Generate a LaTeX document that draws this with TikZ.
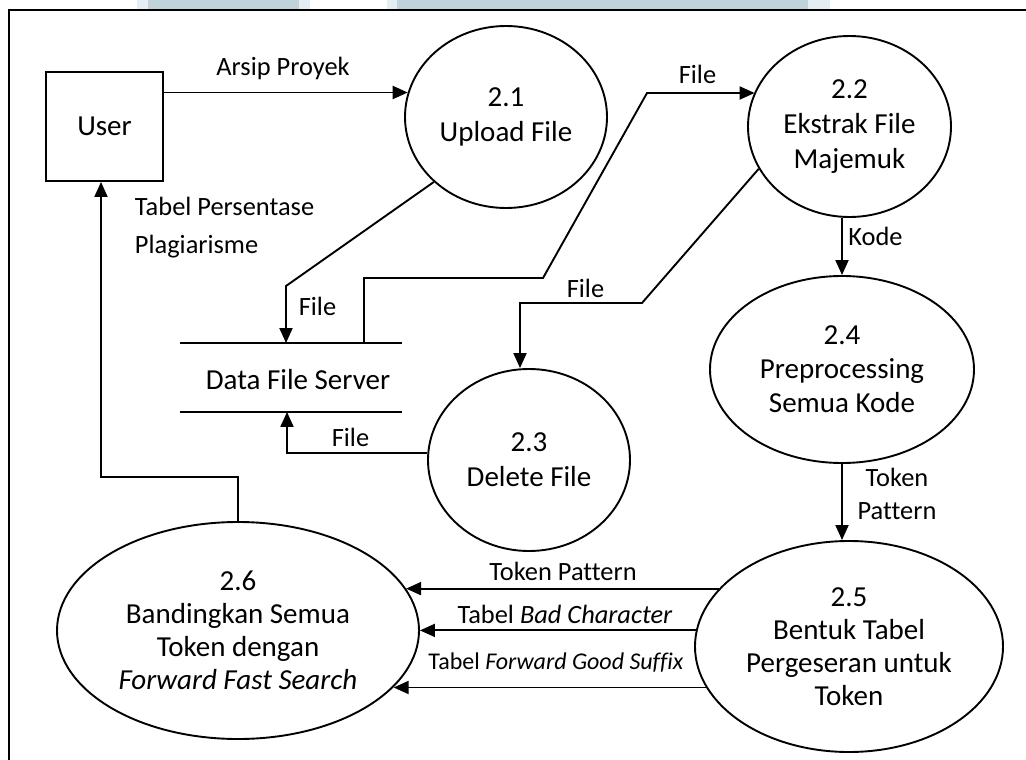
\documentclass[tikz,border=0pt]{standalone}
\usepackage{fontspec}
\setmainfont{Carlito}[Ligatures={NoCommon}]
\usetikzlibrary{arrows.meta,shapes.geometric,calc}
\definecolor{band}{RGB}{193,211,218}
\definecolor{bandlight}{RGB}{228,238,242}
\begin{document}
\begin{tikzpicture}[x=1pt,y=-1pt,
  line width=1.9pt,
  flow/.style={-{Triangle[length=15pt,width=13pt]}},
  proc/.style={draw,ellipse,inner sep=0pt,align=center,
    font=\fontsize{29}{35}\selectfont},
  lbl/.style={inner sep=0pt,font=\fontsize{26.4}{33}\selectfont},
  lbls/.style={inner sep=0pt,font=\fontsize{24}{30}\selectfont}]
\useasboundingbox (0,0) rectangle (1026,760);
% top band remnants
\fill[bandlight] (137,0) rectangle (310,9);
\fill[band] (148,0) rectangle (299,9);
\fill[bandlight] (387,0) rectangle (830,9);
\fill[band] (397,0) rectangle (808,9);
% frame
\draw (9,760) -- (9,10) -- (1026,10);

% nodes
\node[draw,minimum width=117pt,minimum height=109pt,inner sep=0pt,
  font=\fontsize{29}{35}\selectfont] (user) at (104.5,126.5) {User};
\node[proc,minimum width=202pt,minimum height=182pt] (p21) at (506,117)
  {2.1\\Upload File};
\node[proc,minimum width=203pt,minimum height=181pt] (p22) at (849.5,126.5)
  {2.2\\Ekstrak File\\Majemuk};
\node[proc,minimum width=202pt,minimum height=182pt] (p23) at (529,460)
  {2.3\\Delete File};
\node[proc,minimum width=264pt,minimum height=187pt,
  font=\fontsize{29}{34}\selectfont] (p24) at (842,369.5)
  {2.4\\Preprocessing\\Semua Kode};
\node[proc,minimum width=308pt,minimum height=211pt,
  font=\fontsize{29}{33}\selectfont] (p25) at (849,646.5)
  {2.5\\Bentuk Tabel\\Pergeseran untuk\\Token};
\node[proc,minimum width=362pt,minimum height=217pt,
  font=\fontsize{29}{33}\selectfont] (p26) at (238,630.5)
  {2.6\\Bandingkan Semua\\Token dengan\\\textit{Forward Fast Search}};
\node[minimum width=220pt,minimum height=67pt,inner sep=0pt] (ds) at (291,377.5) {};
\draw (ds.north west) -- (ds.north east);
\draw (ds.south west) -- (ds.south east);
\node[inner sep=0pt,font=\fontsize{29}{35}\selectfont] (dstext) at (298,380) {Data File Server};

% bend coordinates
\coordinate (b1) at (286,286);
\coordinate (b2a) at (364,278);
\coordinate (b2b) at (543,278);
\coordinate (b2c) at (647,93);
\coordinate (b3a) at (642,303);
\coordinate (b3b) at (520,303);
\coordinate (b4) at (287,453);
\coordinate (b6) at (101,477);

% connectors
\draw[flow] (user.east |- p21.166) -- (p21.166);
\draw[flow] (p21.222) -- (b1) -- (b1 |- ds.north);
\draw[flow] (b2a |- ds.north) -- (b2a) -- (b2b) -- (b2c) -- (b2c -| p22.160);
\draw[flow] (p22.205) -- (b3a) -- (b3b) -- (b3b |- p23.north);
\draw[flow] (p23.176) -| (b4 |- ds.south);
\draw[flow] (p24.north |- p22.south) -- (p24.north);
\draw[flow] (p24.south) -- (p24.south |- p25.north);
\draw[flow] (p25.156) -- (p25.156 -| p26.14);
\draw[flow] (p25.174) -- (p25.174 -| p26.east);
\draw[flow] (p25.196) -- (p25.196 -| p26.340);
\draw[flow] (p26.north) |- (b6) -- (b6 |- user.south);

% labels
\node[lbl] (l1) at (283,68) {Arsip Proyek};
\node[lbl] (l2) at (697.5,74) {File};
\node[lbl,anchor=base west] (l3a) at (134,215) {Tabel Persentase};
\node[lbl,anchor=base west] (l3b) at (134,253) {Plagiarisme};
\node[lbl] (l4) at (317.5,306) {File};
\node[lbl] (l5) at (350.5,437) {File};
\node[lbl] (l6) at (585.5,288) {File};
\node[lbl] (l7) at (875.5,236) {Kode};
\node[lbl,align=center] (l8) at (897,494) {Token\\Pattern};
\node[lbl] (l9) at (563,571) {Token Pattern};
\node[lbl] (l10) at (565,614) {Tabel \textit{Bad Character}};
\node[lbls] (l11) at (556,663) {Tabel \textit{Forward Good Suffix}};
\end{tikzpicture}
\end{document}
